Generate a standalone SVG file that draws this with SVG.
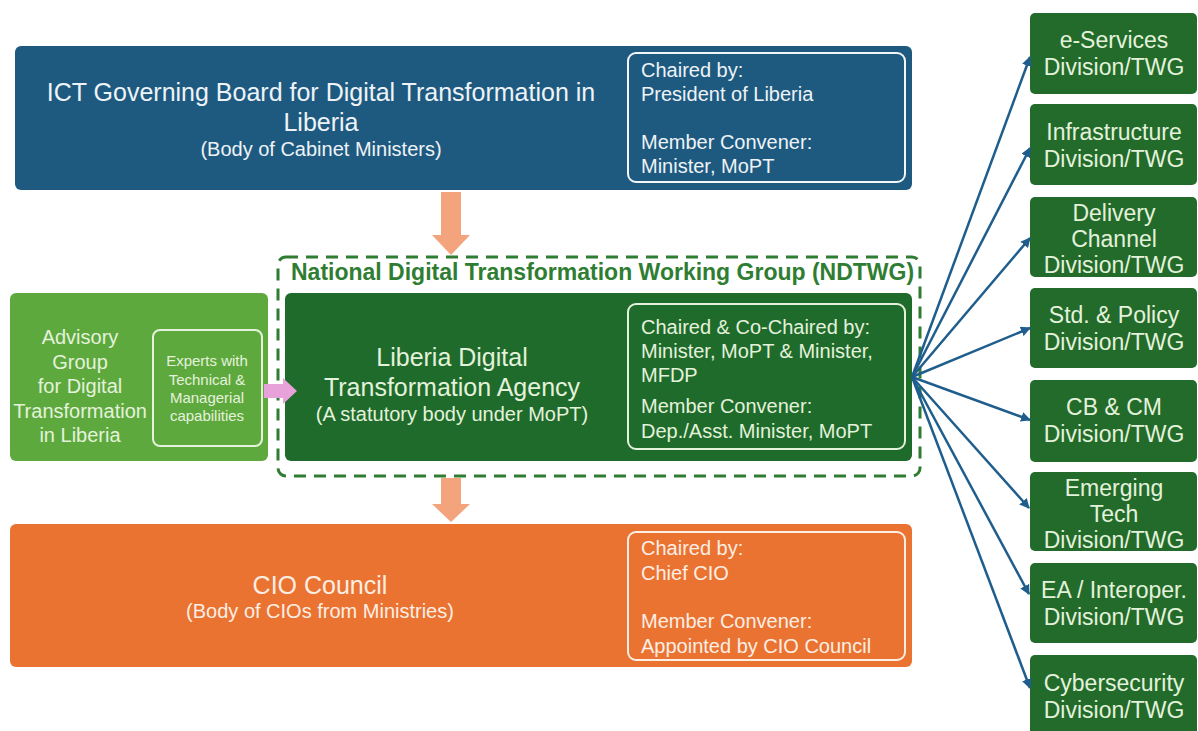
<svg xmlns="http://www.w3.org/2000/svg" width="1198" height="731" viewBox="0 0 1198 731">
<defs>
<style>
text{font-family:"Liberation Sans",Arial,sans-serif}
.lt{fill:#eef3f7}
.gt{fill:#e4f2dc}
.ot{fill:#fdeee4}
.h{font-size:25px}
.s{font-size:20px}
.inner{fill:none;stroke:#f2f6f8;stroke-width:2}
.div rect{fill:#236b2b}
.div text{font-size:23px;fill:#e4f2dc;text-anchor:middle}
.con line{stroke:#1f5e8c;stroke-width:2.5;marker-end:url(#ah)}
.oarrow{fill:#f3a47c}
</style>
<marker id="ah" viewBox="0 0 10 10" refX="9" refY="5" markerWidth="4" markerHeight="4" orient="auto" markerUnits="strokeWidth">
<path d="M0,0 L10,5 L0,10 z" fill="#1f5e8c"/>
</marker>
</defs>
<rect width="1198" height="731" fill="#ffffff"/>

<g id="board">
<rect x="15" y="46" width="897" height="144" rx="6" fill="#1e5a80"/>
<text class="lt h" x="321" y="101" text-anchor="middle">ICT Governing Board for Digital Transformation in</text>
<text class="lt h" x="321" y="131" text-anchor="middle">Liberia</text>
<text class="lt s" x="321" y="156" text-anchor="middle">(Body of Cabinet Ministers)</text>
<rect class="inner" x="628" y="53" width="277" height="129" rx="8"/>
<text class="lt s" x="641" y="77">Chaired by:</text>
<text class="lt s" x="641" y="101">President of Liberia</text>
<text class="lt s" x="641" y="149">Member Convener:</text>
<text class="lt s" x="641" y="173">Minister, MoPT</text>
</g>

<g id="ndtwg">
<rect x="278" y="257" width="642" height="219" rx="8" fill="none" stroke="#2e7d32" stroke-width="3" stroke-dasharray="12 8"/>
<text x="291" y="280" font-size="23" font-weight="bold" fill="#2e7d32">National Digital Transformation Working Group (NDTWG)</text>
</g>

<g id="advisory">
<rect x="10" y="293" width="258" height="168" rx="6" fill="#5ea93e"/>
<text class="gt s" x="80" y="344" text-anchor="middle">Advisory</text>
<text class="gt s" x="80" y="369" text-anchor="middle">Group</text>
<text class="gt s" x="80" y="393" text-anchor="middle">for Digital</text>
<text class="gt s" x="80" y="418" text-anchor="middle">Transformation</text>
<text class="gt s" x="80" y="442" text-anchor="middle">in Liberia</text>
<rect x="153" y="330" width="109" height="116" rx="7" fill="none" stroke="#e4f2dc" stroke-width="2"/>
<text class="gt" x="207" y="366" font-size="15" text-anchor="middle">Experts with</text>
<text class="gt" x="207" y="385" font-size="15" text-anchor="middle">Technical &amp;</text>
<text class="gt" x="207" y="403" font-size="15" text-anchor="middle">Managerial</text>
<text class="gt" x="207" y="421" font-size="15" text-anchor="middle">capabilities</text>
</g>

<g id="ldta">
<rect x="285" y="293" width="627" height="168" rx="6" fill="#1f6b2b"/>
<text class="gt h" x="452" y="366" text-anchor="middle">Liberia Digital</text>
<text class="gt h" x="452" y="396" text-anchor="middle">Transformation Agency</text>
<text class="gt s" x="452" y="421" text-anchor="middle">(A statutory body under MoPT)</text>
<rect x="628" y="304" width="277" height="145" rx="8" fill="none" stroke="#e4f2dc" stroke-width="2"/>
<text class="gt s" x="641" y="334">Chaired &amp; Co-Chaired by:</text>
<text class="gt s" x="641" y="358">Minister, MoPT &amp; Minister,</text>
<text class="gt s" x="641" y="382">MFDP</text>
<text class="gt s" x="641" y="413">Member Convener:</text>
<text class="gt s" x="641" y="438">Dep./Asst. Minister, MoPT</text>
</g>

<g id="cio">
<rect x="10" y="524" width="902" height="143" rx="6" fill="#ea7332"/>
<text class="ot h" x="320" y="594" text-anchor="middle">CIO Council</text>
<text class="ot s" x="320" y="618" text-anchor="middle">(Body of CIOs from Ministries)</text>
<rect x="628" y="532" width="277" height="128" rx="8" fill="none" stroke="#fdeee4" stroke-width="2"/>
<text class="ot s" x="641" y="555">Chaired by:</text>
<text class="ot s" x="641" y="580">Chief CIO</text>
<text class="ot s" x="641" y="628">Member Convener:</text>
<text class="ot s" x="641" y="653">Appointed by CIO Council</text>
</g>

<g id="divisions" class="div">
<g id="d1"><rect x="1030" y="13" width="167" height="81" rx="5"/><text x="1114" y="48">e-Services</text><text x="1114" y="75">Division/TWG</text></g>
<g id="d2"><rect x="1030" y="104" width="167" height="81" rx="5"/><text x="1114" y="140">Infrastructure</text><text x="1114" y="167">Division/TWG</text></g>
<g id="d3"><rect x="1030" y="197" width="167" height="80" rx="5"/><text x="1114" y="221">Delivery</text><text x="1114" y="247">Channel</text><text x="1114" y="273">Division/TWG</text></g>
<g id="d4"><rect x="1030" y="288" width="167" height="80" rx="5"/><text x="1114" y="323">Std. &amp; Policy</text><text x="1114" y="350">Division/TWG</text></g>
<g id="d5"><rect x="1030" y="380" width="167" height="82" rx="5"/><text x="1114" y="415">CB &amp; CM</text><text x="1114" y="442">Division/TWG</text></g>
<g id="d6"><rect x="1030" y="472" width="167" height="79" rx="5"/><text x="1114" y="496">Emerging</text><text x="1114" y="522">Tech</text><text x="1114" y="548">Division/TWG</text></g>
<g id="d7"><rect x="1030" y="563" width="167" height="80" rx="5"/><text x="1114" y="598">EA / Interoper.</text><text x="1114" y="625">Division/TWG</text></g>
<g id="d8"><rect x="1030" y="655" width="167" height="82" rx="5"/><text x="1114" y="691">Cybersecurity</text><text x="1114" y="718">Division/TWG</text></g>
</g>

<g id="connectors">
<path class="oarrow" d="M441,192 H461 V235 H470 L451,255 L432,235 H441 Z"/>
<path class="oarrow" d="M441,478 H461 V504 H470 L451,522 L432,504 H441 Z"/>
<path d="M264,384 H283 V378 L297,391 L283,404 V398 H264 Z" fill="#e7a2da"/>
<g class="con">
<line x1="912" y1="377" x2="1030" y2="57"/>
<line x1="912" y1="377" x2="1030" y2="148"/>
<line x1="912" y1="377" x2="1030" y2="238"/>
<line x1="912" y1="377" x2="1030" y2="328"/>
<line x1="912" y1="377" x2="1030" y2="420"/>
<line x1="912" y1="377" x2="1029" y2="508"/>
<line x1="912" y1="377" x2="1029" y2="594"/>
<line x1="912" y1="377" x2="1030" y2="688"/>
</g>
</g>
</svg>
